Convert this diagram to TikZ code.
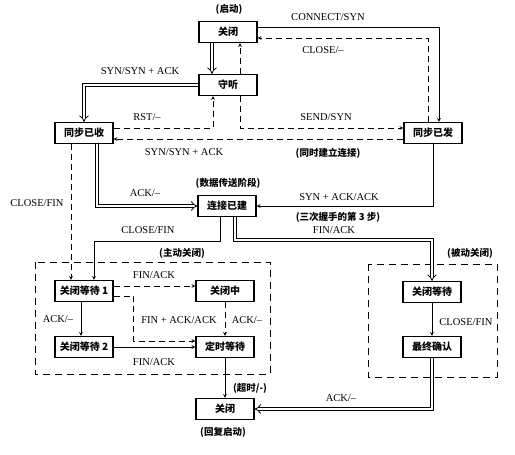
\documentclass[tikz,border=0pt]{standalone}
\usepackage{fontspec}
\setmainfont{Liberation Serif}
\newfontfamily\cjk{Noto Sans CJK SC}
\usetikzlibrary{arrows.meta}
\tikzset{s/.style = {draw, line width=1.3pt, minimum width=58pt, minimum height=21pt, inner sep=0pt, font=\cjk\bfseries\fontsize{10}{12}\selectfont},
    t/.style = {inner sep=1pt, font=\fontsize{10.5}{12}\selectfont},
    c/.style = {inner sep=1pt, font=\cjk\bfseries\fontsize{9.5}{11}\selectfont},
    d/.style = {dash pattern=on 6pt off 4pt},
    w/.style = {double, double distance=2.4pt, line width=0.8pt, -{Implies}},
    g/.style = {dash pattern=on 7pt off 5pt, line width=0.7pt}}

\begin{document}
\begin{tikzpicture}[x=1pt, y=-1pt, >=stealth, line width=0.7pt]
        \useasboundingbox (0,0) rectangle (515,455);
        % states
        \node[s] (closed) at (228,32) {关闭};
        \node[s] (listen) at (228,85) {守听};
        \foreach \n/\x/\t in {synrcvd/84/同步已收, synsent/433/同步已发} \node[s] (\n) at (\x,133) {\t};
        \node[s] (estab) at (227,206) {连接已建};
        \node[s] (fw1) at (84,291) {关闭等待 1};
        \node[s] (closing) at (225,291) {关闭中};
        \node[s] (fw2) at (84,347) {关闭等待 2};
        \node[s] (timewait) at (225,347) {定时等待};
        \node[s] (closed2) at (225,409) {关闭};
        \node[s] (closewait) at (432,292) {关闭等待};
        \node[s] (lastack) at (432,347) {最终确认};

        % frames
        \draw[g] (35,262) rectangle (270,374);
        \draw[g] (368,264) rectangle (497,377);

        % server path
        \draw[w] ([xshift=-16pt]closed.south) -- ([xshift=-16pt]listen.north);
        \draw[w] (listen.west) -| (synrcvd.north);
        \draw[w] ([xshift=13pt]synrcvd.south) |- (estab.west);
        \draw[w] ([xshift=8pt]estab.south) -- ++(0,23) -| (closewait.north);
        \draw[w] (lastack.south) |- (closed2.east);

        % client path
        \draw[->] ([yshift=5pt]closed.east) -| ([xshift=6pt]synsent.north);
        \draw[->] (synsent.south) |- (estab.east);
        \draw[->] ([xshift=-7pt]estab.south) -- ++(0,24) -| ([xshift=10pt]fw1.north);
        \draw[->] ([xshift=-3pt]fw1.south) -- ([xshift=-3pt]fw2.north);
        \draw[->] (fw2.east) -- (timewait.west);
        \draw[->] (timewait.south) -- (closed2.north);
        \draw[->] (closewait.south) -- (lastack.north);

        % other
        \draw[d,->] ([xshift=-5pt]synsent.north) |- ([yshift=-6pt]closed.east);
        \draw[d,->] ([xshift=12pt]listen.north) -- ([xshift=12pt]closed.south);
        \draw[d,->] ([xshift=12pt]listen.south) |- ([yshift=5pt]synsent.west);
        \draw[d,->] ([yshift=5pt]synrcvd.east) -| ([xshift=-15pt]listen.south);
        \draw[d,->] ([yshift=-6pt]synsent.west) -- ([yshift=-6pt]synrcvd.east);
        \draw[d,->] ([xshift=-13pt]synrcvd.south) -- ([xshift=-13pt]fw1.north);
        \draw[d,->] ([yshift=5pt]fw1.east) -- ([yshift=5pt]closing.west);
        \draw[d,->] ([yshift=-5pt]fw1.east) -- ++(20,0) |- ([yshift=6pt]timewait.west);
        \draw[d,->] (closing.south) -- (timewait.north);

        % labels
        \node[c] (start) at (229,9) {(启动)};
        \node[t] (connect) at (328,17) {CONNECT/SYN};
        \node[t] (close1) at (323,50) {CLOSE/--};
        \node[t] (syn1) at (140,71) {SYN/SYN + ACK};
        \node[t] (rst) at (147,117) {RST/--};
        \node[t] (send) at (326,117) {SEND/SYN};
        \node[t] (syn2) at (184,152) {SYN/SYN + ACK};
        \node[c] (simul) at (328,153) {(同时建立连接)};
        \node[c] (data) at (228,183) {(数据传送阶段)};
        \node[t] (ack1) at (145,193) {ACK/--};
        \node[t] (synack) at (339,197) {SYN + ACK/ACK};
        \node[c] (third) at (338,217) {(三次握手的第 3 步)};
        \node[t] (close2) at (37,203) {CLOSE/FIN};
        \node[t] (close3) at (148,230) {CLOSE/FIN};
        \node[t] (fin1) at (334,230) {FIN/ACK};
        \node[c] (active) at (182,253) {(主动关闭)};
        \node[c] (passive) at (470,253) {(被动关闭)};
        \node[t] (fin2) at (154,275) {FIN/ACK};
        \node[t] (ack2) at (58,319) {ACK/--};
        \node[t] (finack) at (179,320) {FIN + ACK/ACK};
        \node[t] (ack3) at (247,320) {ACK/--};
        \node[t] (fin3) at (154,362) {FIN/ACK};
        \node[t] (close4) at (466,322) {CLOSE/FIN};
        \node[c] (timeout) at (250,388) {(超时/-)};
        \node[t] (ack4) at (341,398) {ACK/--};
        \node[c] (restart) at (223,432) {(回复启动)};
    \end{tikzpicture}
\end{document}
